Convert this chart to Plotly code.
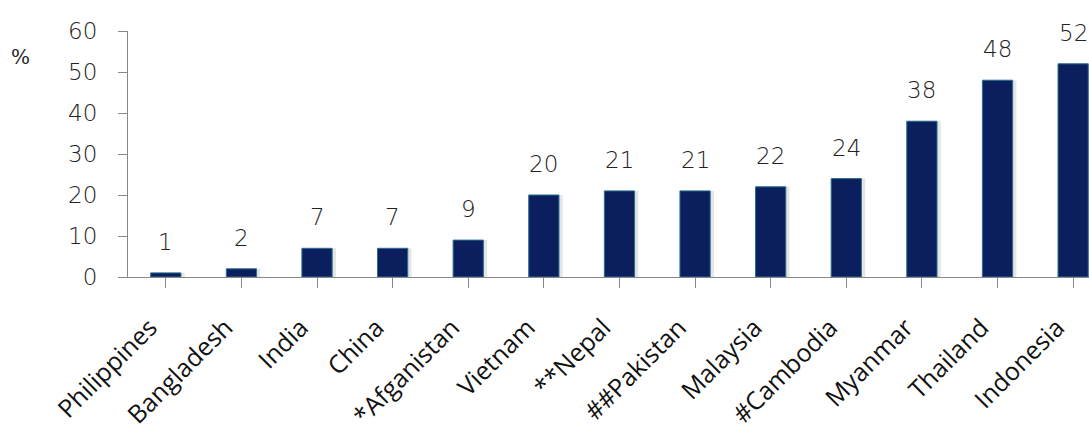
import plotly.graph_objects as go

countries = ["Philippines", "Bangladesh", "India", "China", "*Afganistan", "Vietnam",
             "**Nepal", "##Pakistan", "Malaysia", "#Cambodia", "Myanmar", "Thailand", "Indonesia"]
values = [1, 2, 7, 7, 9, 20, 21, 21, 22, 24, 38, 48, 52]
y_ticks = [0, 10, 20, 30, 40, 50, 60]

W, H = 1089, 432
ML, MR, MT, MB = 128, 0, 31, 155
xs = list(range(len(countries)))

fig = go.Figure()
# soft drop shadow behind each bar
fig.add_trace(go.Bar(
    x=xs, y=values, width=0.44, offset=-0.19,
    marker=dict(color="rgba(0,0,0,0.10)", line=dict(width=0)), hoverinfo="skip",
))
fig.add_trace(go.Bar(
    x=xs, y=values, width=0.4, offset=-0.2,
    marker=dict(color="#0b1f5e", line=dict(color="#2b6e8c", width=1)),
    hoverinfo="skip",
))

for i, v in enumerate(values):
    fig.add_annotation(x=i, y=v, text=str(v), showarrow=False, yanchor="bottom",
                       yshift=16, font=dict(family="DejaVu Sans", size=23, color="#222222",
                                            weight=300))

fig.add_annotation(xref="paper", yref="paper", x=(20 - ML) / (W - ML - MR),
                   y=1 - (57 - MT) / (H - MT - MB), xanchor="center", yanchor="middle",
                   text="%", showarrow=False,
                   font=dict(family="DejaVu Serif", size=20, color="#222222"))

fig.update_layout(
    width=W, height=H, margin=dict(l=ML, r=MR, t=MT, b=MB),
    paper_bgcolor="white", plot_bgcolor="white", showlegend=False, barmode="overlay",
    xaxis=dict(range=[-0.5, 12.21], tickmode="array", tickvals=xs,
               ticktext=countries, tickangle=-45, tickson="boundaries",
               ticks="outside", ticklen=10, tickcolor="#888888",
               showline=True, linecolor="#888888", linewidth=1, showgrid=False,
               tickfont=dict(family="Open Sans", size=25, color="#111111", weight=500),
               ticklabelstandoff=15, ticklabelshift=-16),
    yaxis=dict(range=[0, 60], tickvals=y_ticks, ticks="outside", ticklen=9,
               tickcolor="#888888", showline=True, linecolor="#888888", linewidth=1,
               showgrid=False, zeroline=False,
               tickfont=dict(family="DejaVu Sans", size=23, color="#222222", weight=300),
               ticklabelstandoff=16),
)

fig.write_html("out.html")
